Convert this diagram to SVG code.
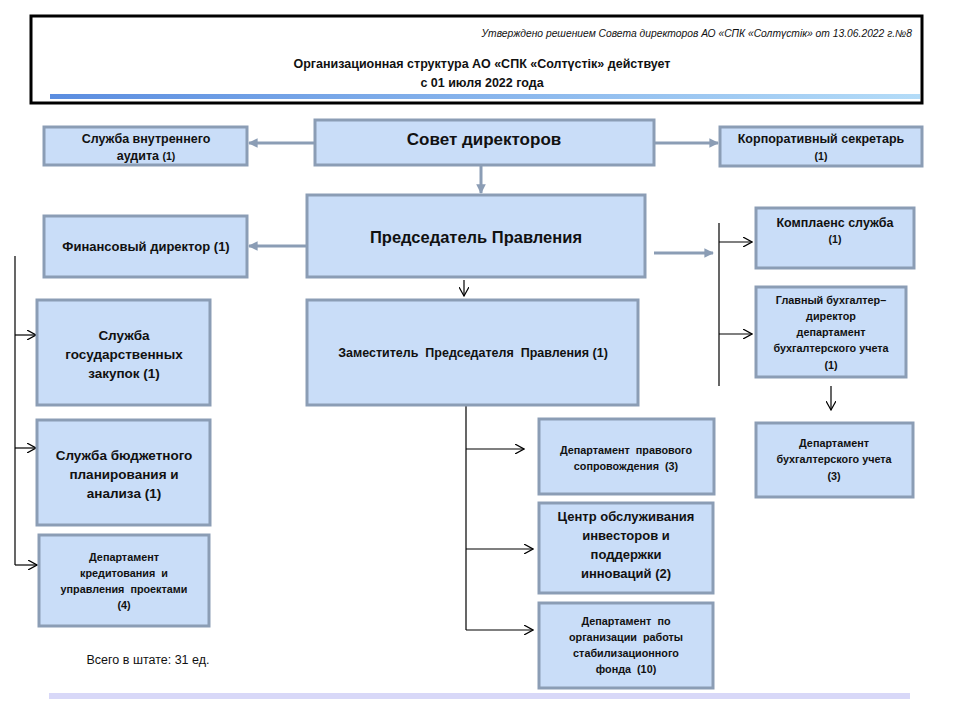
<svg xmlns="http://www.w3.org/2000/svg" width="960" height="720" viewBox="0 0 960 720">
<defs>
<linearGradient id="hbar" x1="0" y1="0" x2="1" y2="0">
<stop offset="0" stop-color="#5b8de0"/>
<stop offset="1" stop-color="#b4dcf8"/>
</linearGradient>
<marker id="ga" viewBox="0 0 10 10" refX="9" refY="5" markerWidth="3.2" markerHeight="3.2" orient="auto">
<path d="M0,0 L10,5 L0,10 z" fill="#8b9db5"/>
</marker>
<marker id="ba" viewBox="0 0 10 10" refX="9" refY="5" markerWidth="10" markerHeight="10" markerUnits="userSpaceOnUse" orient="auto">
<path d="M0,0 L9,5 L0,10" fill="none" stroke="#000" stroke-width="1.2"/>
</marker>
<style>
.n{fill:#c9ddf8;stroke:#8b9db5;stroke-width:3}
.t{font-family:"Liberation Sans",Arial,sans-serif;font-weight:bold;fill:#111;text-anchor:middle}
.g{stroke:#8b9db5;stroke-width:3;fill:none}
.b{stroke:#000;stroke-width:1.2;fill:none}
</style>
</defs>
<rect width="960" height="720" fill="#fff"/>
<g id="header">
<rect x="31" y="16" width="891" height="87" fill="#fff" stroke="#000" stroke-width="3"/>
<rect x="50" y="94" width="870" height="5" fill="url(#hbar)"/>
<text x="912" y="37" font-family="Liberation Sans,Arial,sans-serif" font-style="italic" font-size="10.3" text-anchor="end" fill="#111">Утверждено решением Совета директоров АО «СПК «Солтүстік» от 13.06.2022 г.№8</text>
<text x="482" y="68" class="t" font-size="12.5">Организационная структура АО «СПК «Солтүстік» действует</text>
<text x="482" y="87" class="t" font-size="12.5">с 01 июля 2022 года</text>
</g>
<g id="connectors">
<line x1="315" y1="143" x2="249" y2="143" class="g" marker-end="url(#ga)"/>
<line x1="654" y1="143" x2="718" y2="143" class="g" marker-end="url(#ga)"/>
<line x1="481" y1="165" x2="481" y2="193" class="g" marker-end="url(#ga)"/>
<line x1="307" y1="246" x2="249" y2="246" class="g" marker-end="url(#ga)"/>
<line x1="654" y1="253" x2="713" y2="253" class="g" marker-end="url(#ga)"/>
<line x1="719" y1="223" x2="719" y2="386" class="b"/>
<line x1="719" y1="242" x2="752" y2="242" class="b" marker-end="url(#ba)"/>
<line x1="719" y1="334" x2="752" y2="334" class="b" marker-end="url(#ba)"/>
<line x1="464" y1="280" x2="464" y2="296" class="b" marker-end="url(#ba)"/>
<line x1="831" y1="386" x2="831" y2="410" class="b" marker-end="url(#ba)"/>
<line x1="15" y1="256" x2="15" y2="565" class="b"/>
<line x1="15" y1="335" x2="36" y2="335" class="b" marker-end="url(#ba)"/>
<line x1="15" y1="448" x2="36" y2="448" class="b" marker-end="url(#ba)"/>
<line x1="15" y1="565" x2="37" y2="565" class="b" marker-end="url(#ba)"/>
<line x1="466" y1="405" x2="466" y2="630" class="b"/>
<line x1="466" y1="449" x2="524" y2="449" class="b" marker-end="url(#ba)"/>
<line x1="466" y1="549" x2="533" y2="549" class="b" marker-end="url(#ba)"/>
<line x1="466" y1="630" x2="533" y2="630" class="b" marker-end="url(#ba)"/>
</g>
<g id="audit"><rect x="44" y="127" width="203" height="38" class="n"/>
<text class="t" font-size="12.5" x="146" y="143">Служба внутреннего</text><text class="t" x="146" y="160"><tspan font-size="12.5">аудита </tspan><tspan font-size="10.5">(1)</tspan></text></g>
<g id="board"><rect x="315" y="120" width="339" height="45" class="n"/>
<text class="t" font-size="17" x="484" y="145">Совет директоров</text></g>
<g id="secretary"><rect x="720" y="127" width="202" height="39" class="n"/>
<text class="t" font-size="12.5" x="821" y="143">Корпоративный секретарь</text><text class="t" font-size="10.5" x="821" y="160">(1)</text></g>
<g id="cfo"><rect x="44" y="216" width="203" height="61" class="n"/>
<text class="t" font-size="13" x="146" y="251">Финансовый директор (1)</text></g>
<g id="chairman"><rect x="307" y="195" width="338" height="82" class="n"/>
<text class="t" font-size="16.5" x="476" y="243">Председатель Правления</text></g>
<g id="compliance"><rect x="756" y="208" width="158" height="60" class="n"/>
<text class="t" font-size="12.5" x="835" y="227">Комплаенс служба</text><text class="t" font-size="10.5" x="835" y="243">(1)</text></g>
<g id="chief-accountant"><rect x="756" y="287" width="150" height="90" class="n"/>
<g class="t" font-size="10.8"><text x="831" y="304">Главный бухгалтер–</text><text x="831" y="320">директор</text><text x="831" y="336">департамент</text><text x="831" y="352">бухгалтерского учета</text><text x="831" y="369">(1)</text></g></g>
<g id="deputy"><rect x="307" y="300" width="331" height="105" class="n"/>
<text class="t" font-size="12.5" x="473" y="357">Заместитель&#160; Председателя&#160; Правления (1)</text></g>
<g id="procurement"><rect x="37" y="300" width="173" height="105" class="n"/>
<g class="t" font-size="13.5"><text x="124" y="340">Служба</text><text x="124" y="359">государственных</text><text x="124" y="378">закупок (1)</text></g></g>
<g id="budget"><rect x="37" y="420" width="173" height="105" class="n"/>
<g class="t" font-size="13.5"><text x="124" y="460">Служба бюджетного</text><text x="124" y="479">планирования и</text><text x="124" y="498">анализа (1)</text></g></g>
<g id="credit"><rect x="39" y="535" width="170" height="91" class="n"/>
<g class="t" font-size="10.8"><text x="124" y="561">Департамент</text><text x="124" y="577">кредитования&#160; и</text><text x="124" y="593">управления&#160; проектами</text><text x="124" y="609">(4)</text></g></g>
<g id="accounting"><rect x="756" y="423" width="157" height="74" class="n"/>
<g class="t" font-size="10.8"><text x="834" y="447">Департамент</text><text x="834" y="463">бухгалтерского учета</text><text x="834" y="480">(3)</text></g></g>
<g id="legal"><rect x="539" y="419" width="175" height="75" class="n"/>
<g class="t" font-size="10.8"><text x="626" y="454">Департамент&#160; правового</text><text x="626" y="470">сопровождения&#160; (3)</text></g></g>
<g id="investors"><rect x="539" y="503" width="174" height="90" class="n"/>
<g class="t" font-size="13"><text x="626" y="521">Центр обслуживания</text><text x="626" y="540">инвесторов и</text><text x="626" y="559">поддержки</text><text x="626" y="578">инноваций (2)</text></g></g>
<g id="stabilization"><rect x="539" y="603" width="174" height="85" class="n"/>
<g class="t" font-size="10.8"><text x="626" y="625">Департамент&#160; по</text><text x="626" y="641">организации&#160; работы</text><text x="626" y="657">стабилизационного</text><text x="626" y="673">фонда&#160; (10)</text></g></g>
<text x="148" y="664" font-family="Liberation Sans,Arial,sans-serif" font-size="12.5" text-anchor="middle" fill="#111">Всего в штате: 31 ед.</text>
<rect x="49" y="693" width="861" height="6" fill="#d8d8f8"/>
</svg>
